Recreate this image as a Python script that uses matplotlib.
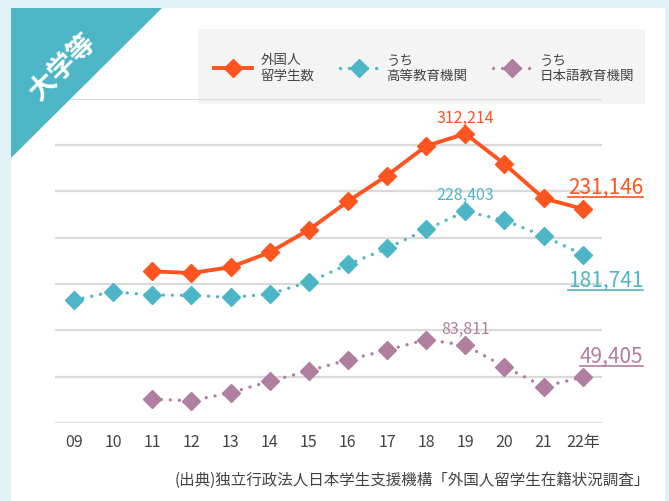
import matplotlib.pyplot as plt
from matplotlib.patches import Rectangle, Polygon
from matplotlib.lines import Line2D

plt.rcParams['font.family'] = ['Noto Sans CJK JP', 'DejaVu Sans']

# データ（JASSO 外国人留学生在籍状況調査）
years = [9, 10, 11, 12, 13, 14, 15, 16, 17, 18, 19, 20, 21, 22]
year_labels = ['09', '10', '11', '12', '13', '14', '15', '16', '17', '18', '19', '20', '21', '22年']
total = [None, None, 163697, 161848, 168145, 184155, 208379, 239287, 267042, 298980, 312214, 279597, 242444, 231146]
higher = [132720, 141774, 138075, 137756, 135519, 139185, 152062, 171122, 188384, 208901, 228403, 218783, 201877, 181741]
japanese = [None, None, 25622, 24092, 32626, 44970, 56317, 68165, 78658, 90079, 83811, 60814, 39388, 49405]
grid_values = [0, 50000, 100000, 150000, 200000, 250000, 300000, 350000]

c_total = '#fd5420'
c_high = '#4db6c6'
c_jp = '#b07e9e'
c_text = '#444444'

W, H = 669, 502
fig = plt.figure(figsize=(W / 100, H / 100), dpi=100, facecolor='#e1f2f6')

# 白いパネルと左上の三角
fig.patches.append(Rectangle((11 / W, 0), (665 - 11) / W, 1 - 9 / H,
                             transform=fig.transFigure, facecolor='white',
                             edgecolor='none', zorder=-2))
fig.patches.append(Polygon([(11 / W, 1 - 9 / H), (162 / W, 1 - 9 / H), (11 / W, 1 - 159 / H)],
                           closed=True, transform=fig.transFigure,
                           facecolor=c_high, edgecolor='none', zorder=3))
fig.text(63 / W, 1 - 67 / H, '大学等', color='white', fontsize=19.5, fontweight='bold',
         rotation=45, ha='center', va='center', zorder=4)
# 凡例の背景
fig.patches.append(Rectangle((198 / W, 1 - 105 / H), (645 - 198) / W, 75 / H,
                             transform=fig.transFigure, facecolor='#f4f4f4',
                             edgecolor='none', zorder=-1.5))

ax = fig.add_axes([55 / W, 1 - 424 / H, (602 - 55) / W, (424 - 99.7) / H])
ax.patch.set_alpha(0)
ax.set_xlim(8.514, 22.493)
ax.set_ylim(0, 350000)
for v in grid_values:
    ax.axhline(v, color='#dadada', lw=1.6, zorder=1)
for s in ax.spines.values():
    s.set_visible(False)
ax.set_yticks([])
ax.set_xticks(years)
ax.set_xticklabels(year_labels)
ax.tick_params(axis='x', length=0, pad=7, labelsize=11.5, labelcolor=c_text)

dots = (0, (0.01, 2.7))
ax.plot(years, total, color=c_total, lw=2.8, marker='D', ms=9.5,
        zorder=5, clip_on=False, label='外国人\n留学生数')
ax.plot(years, higher, color=c_high, lw=2.4, ls=dots, dash_capstyle='round',
        marker='D', ms=9.5, zorder=4, clip_on=False, label='うち\n高等教育機関')
ax.plot(years, japanese, color=c_jp, lw=2.4, ls=dots, dash_capstyle='round',
        marker='D', ms=9.5, zorder=4, clip_on=False, label='うち\n日本語教育機関')

# ピークのラベル
ax.annotate('312,214', (19, total[10]), xytext=(0, 12), textcoords='offset points',
            ha='center', va='center', color=c_total, fontsize=11.5)
ax.annotate('228,403', (19, higher[10]), xytext=(0, 12), textcoords='offset points',
            ha='center', va='center', color=c_high, fontsize=11.5)
ax.annotate('83,811', (19, japanese[10]), xytext=(0, 12.5), textcoords='offset points',
            ha='center', va='center', color=c_jp, fontsize=11.5)

# 最新値（下線付き）
end_labels = []
for label, val, dy, col in [('231,146', total[-1], 16, c_total),
                            ('181,741', higher[-1], -18, c_high),
                            ('49,405', japanese[-1], 15, c_jp)]:
    end_labels.append(ax.annotate(label, (23.55, val), xytext=(0, dy),
                                  textcoords='offset points', ha='right', va='center',
                                  color=col, fontsize=15, annotation_clip=False))

leg = fig.legend(loc='center left', bbox_to_anchor=(214 / W, 1 - 68 / H),
                 ncol=3, fontsize=9.7, frameon=False, borderaxespad=0, borderpad=0,
                 handlelength=2.85, handletextpad=0.6, columnspacing=1.9,
                 labelspacing=0.2)
for t in leg.get_texts():
    t.set_color(c_text)
    t.set_linespacing(1.1)

fig.text(650 / W, 1 - 480 / H, '(出典)独立行政法人日本学生支援機構「外国人留学生在籍状況調査」',
         ha='right', va='center', fontsize=11.2, color=c_text)

# 下線をテキストの幅に合わせて引く
fig.canvas.draw()
r = fig.canvas.get_renderer()
for t in end_labels:
    bb = t.get_window_extent(r)
    y = bb.y0 + 1
    fig.add_artist(Line2D([bb.x0, bb.x1], [y, y], transform=None,
                          color=t.get_color(), lw=1.2))

fig.savefig('out.png', dpi=100, facecolor=fig.get_facecolor())
